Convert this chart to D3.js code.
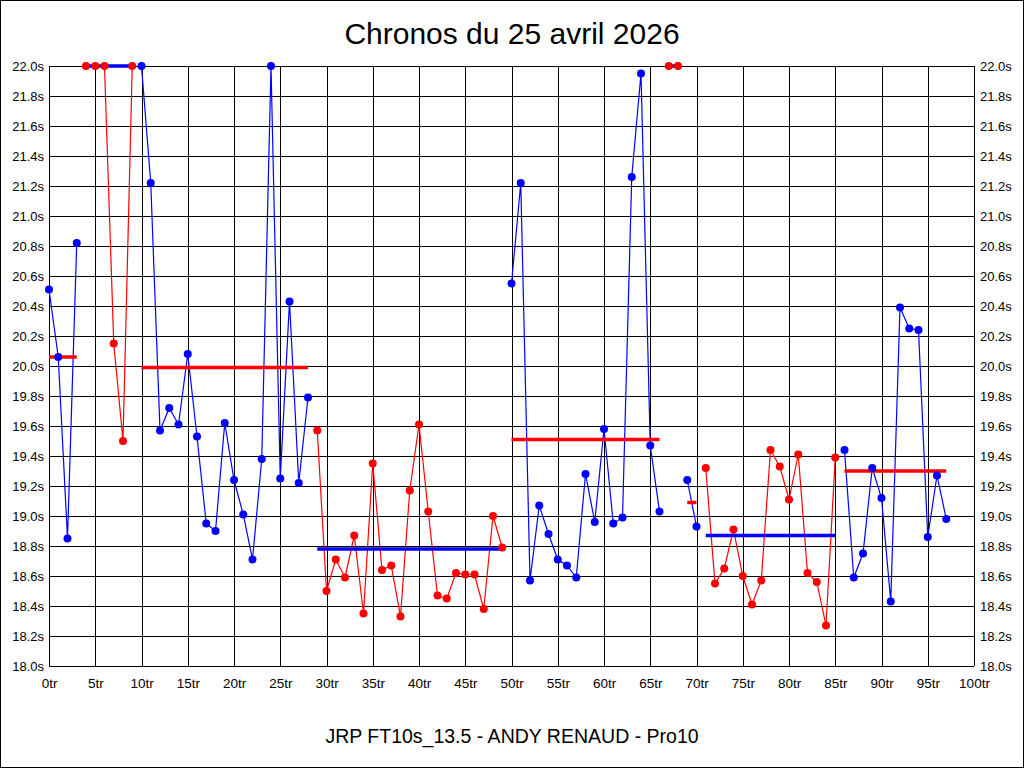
<!DOCTYPE html>
<html><head><meta charset="utf-8">
<script src="https://cdn.jsdelivr.net/npm/d3@7/dist/d3.min.js"></script>
<style>
html,body{margin:0;padding:0;background:#fff;}
svg{display:block;}
text{font-family:"Liberation Sans",Arial,sans-serif;fill:#000;}
</style></head><body>
<svg id="c" width="1024" height="768"></svg>
<script>
// Lap times (s), lap index = array position (0tr .. 97tr)
const times = [
  20.51, 20.06, 18.85, 20.82,                     // stint 1 (laps 0-3)
  22.0, 22.0, 22.0, 20.15, 19.50, 22.0,           // stint 2 (laps 4-9)
  22.0, 21.22, 19.57, 19.72, 19.61, 20.08, 19.53, 18.95, 18.90, 19.62,
  19.24, 19.01, 18.71, 19.38, 22.0, 19.25, 20.43, 19.22, 19.79,   // stint 3 (10-28)
  19.57, 18.50, 18.71, 18.59, 18.87, 18.35, 19.35, 18.64, 18.67, 18.33,
  19.17, 19.61, 19.03, 18.47, 18.45, 18.62, 18.61, 18.61, 18.38, 19.00, 18.79, // stint 4 (29-49)
  20.55, 21.22, 18.57, 19.07, 18.88, 18.71, 18.67, 18.59, 19.28, 18.96,
  19.58, 18.95, 18.99, 21.26, 21.95, 19.47, 19.03,  // stint 5 (50-66)
  22.0, 22.0,                                      // stint 6 (67-68)
  19.24, 18.93,                                    // stint 7 (69-70)
  19.32, 18.55, 18.65, 18.91, 18.60, 18.41, 18.57, 19.44, 19.33, 19.11,
  19.41, 18.62, 18.56, 18.27, 19.39,               // stint 8 (71-85)
  19.44, 18.59, 18.75, 19.32, 19.12, 18.43, 20.39, 20.25, 20.24, 18.86,
  19.27, 18.98                                     // stint 9 (86-97)
];
const stintStart = [0, 4, 10, 29, 50, 67, 69, 71, 86];
const stintEnd   = [3, 9, 28, 49, 66, 68, 70, 85, 97];
const stintAvg   = [20.06, 22.0, 19.99, 18.78, 19.51, 22.0, 19.09, 18.87, 19.30];
const yTicks = [18.0,18.2,18.4,18.6,18.8,19.0,19.2,19.4,19.6,19.8,20.0,20.2,20.4,20.6,20.8,21.0,21.2,21.4,21.6,21.8,22.0];
const xTicks = [0,5,10,15,20,25,30,35,40,45,50,55,60,65,70,75,80,85,90,95,100];
const title = "Chronos du 25 avril 2026";
const subtitle = "JRP FT10s_13.5 - ANDY RENAUD - Pro10";

const BLUE = "#0000ff", RED = "#ff0000";
const L = 49, R = 974, T = 66, B = 666;
const svg = d3.select("#c");
const x = d3.scaleLinear().domain([0, 100]).range([L, R]);
const y = d3.scaleLinear().domain([18, 22]).range([B, T]);

// outer border
svg.append("rect").attr("x",0.5).attr("y",0.5).attr("width",1023).attr("height",767)
  .attr("fill","#fff").attr("stroke","#000");

// grid
const g = svg.append("g").attr("shape-rendering","crispEdges");
g.selectAll("line.h").data(yTicks).join("line")
  .attr("x1",L).attr("x2",R).attr("y1",d=>Math.round(y(d))+0.5).attr("y2",d=>Math.round(y(d))+0.5)
  .attr("stroke","#000");
g.selectAll("line.v").data(xTicks).join("line")
  .attr("y1",T).attr("y2",B).attr("x1",d=>Math.round(x(d))+0.5).attr("x2",d=>Math.round(x(d))+0.5)
  .attr("stroke","#000");

// axes labels
const fmtY = d => d3.format(".1f")(d) + "s";
const axL = d3.axisLeft(y).tickValues(yTicks).tickSize(0).tickPadding(5).tickFormat(fmtY);
const axR = d3.axisRight(y).tickValues(yTicks).tickSize(0).tickPadding(6).tickFormat(fmtY);
const axB = d3.axisBottom(x).tickValues(xTicks).tickSize(0).tickPadding(12).tickFormat(d => d + "tr");
function styleAxis(sel){ sel.select(".domain").remove(); sel.selectAll("text").attr("font-family","Liberation Sans, Arial, sans-serif").attr("fill","#000"); }
svg.append("g").attr("transform",`translate(${L},0)`).call(axL).call(styleAxis).selectAll("text").attr("font-size",13);
svg.append("g").attr("transform",`translate(${R},0)`).call(axR).call(styleAxis).selectAll("text").attr("font-size",13);
svg.append("g").attr("transform",`translate(0,${B})`).call(axB).call(styleAxis).selectAll("text").attr("font-size",13.5);

// series
stintStart.forEach((s, k) => {
  const e = stintEnd[k];
  const pts = times.slice(s, e + 1).map((v, j) => [s + j, v]);
  const col = k % 2 === 0 ? BLUE : RED;
  const avgCol = k % 2 === 0 ? RED : BLUE;
  svg.append("path").datum(pts)
    .attr("d", d3.line().x(d => x(d[0])).y(d => y(d[1])))
    .attr("fill","none").attr("stroke",col).attr("stroke-width",1.2);
  svg.append("line")
    .attr("x1", x(s)).attr("x2", x(e)).attr("y1", y(stintAvg[k])).attr("y2", y(stintAvg[k]))
    .attr("stroke", avgCol).attr("stroke-width", 3.5);
  svg.append("g").selectAll("circle").data(pts).join("circle")
    .attr("cx", d => x(d[0])).attr("cy", d => y(d[1])).attr("r", 4).attr("fill", col);
});

// titles
svg.append("text").attr("x",512).attr("y",44).attr("text-anchor","middle").attr("font-size",30).text(title);
svg.append("text").attr("x",512).attr("y",743).attr("text-anchor","middle").attr("font-size",19.5).text(subtitle);
</script>
</body></html>
